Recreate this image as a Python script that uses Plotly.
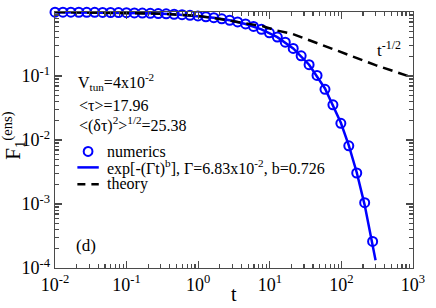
import plotly.graph_objects as go

# numerics (open circles)
num_t = [0.0100, 0.01291, 0.01666, 0.02151, 0.02777, 0.03585, 0.04628, 0.05974, 0.07712, 0.09956,
         0.1285, 0.1659, 0.2142, 0.2765, 0.3569, 0.4608, 0.5948, 0.7679, 0.9913, 1.280,
         1.652, 2.133, 2.753, 3.554, 4.588, 5.923, 7.646, 9.870, 12.74, 16.45,
         21.23, 27.41, 35.38, 45.68, 58.97, 76.12, 98.26, 126.8, 163.8, 211.4, 272.9]
num_F = [0.995, 0.994, 0.993, 0.991, 0.989, 0.987, 0.985, 0.982, 0.978, 0.974,
         0.968, 0.962, 0.955, 0.946, 0.935, 0.922, 0.907, 0.889, 0.868, 0.843,
         0.815, 0.781, 0.743, 0.699, 0.650, 0.595, 0.536, 0.472, 0.405, 0.337,
         0.270, 0.207, 0.150, 0.102, 0.062, 0.0355, 0.0182, 0.0081, 0.00305, 0.00105, 0.00026]

# stretched-exponential fit (solid blue)
fit_t = [0.0100, 0.02151, 0.04628, 0.09956, 0.2142, 0.4608, 0.9913, 1.652, 2.753, 4.588,
         7.646, 12.74, 21.23, 35.38, 58.97, 98.26, 126.8, 163.8, 211.4, 272.9, 300.0]
fit_F = [0.995, 0.991, 0.985, 0.974, 0.955, 0.922, 0.868, 0.815, 0.743, 0.650,
         0.536, 0.405, 0.270, 0.150, 0.0639, 0.0186, 0.00826, 0.00311, 0.00096, 0.000233, 0.000132]

# theory (dashed black)
th_t = [0.01, 0.1, 0.3, 1, 2, 4, 8, 12, 20, 50, 100, 300, 1000]
th_F = [1.0, 0.975, 0.94, 0.87, 0.78, 0.68, 0.60, 0.52, 0.46, 0.315, 0.235, 0.148, 0.094]

x_tickvals = [0.01, 0.1, 1, 10, 100, 1000]
x_ticktext = ["10<sup>-2</sup>", "10<sup>-1</sup>", "10<sup>0</sup>", "10<sup>1</sup>", "10<sup>2</sup>", "10<sup>3</sup>"]
y_tickvals = [1e-4, 1e-3, 1e-2, 1e-1, 1]
y_ticktext = ["10<sup>-4</sup>", "10<sup>-3</sup>", "10<sup>-2</sup>", "10<sup>-1</sup>", "10<sup>0</sup>"]

legend_labels = ["numerics", "exp[-(Γt)<sup>b</sup>], Γ=6.83x10<sup>-2</sup>, b=0.726", "theory"]

FONT = "Liberation Serif"
BLUE = "#0000ff"
AX = "#4a4a4a"

x_minor = [m * 10.0 ** e for e in range(-2, 3) for m in range(2, 10)]
y_minor = [m * 10.0 ** e for e in range(-4, 0) for m in range(2, 10)]

fig = go.Figure()
fig.add_trace(go.Scatter(x=num_t, y=num_F, mode="markers", name=legend_labels[0], showlegend=False,
                         marker=dict(symbol="circle-open", size=9, color=BLUE, line=dict(width=2, color=BLUE)),
                         cliponaxis=False))
fig.add_trace(go.Scatter(x=fit_t, y=fit_F, mode="lines", name="fit", showlegend=False,
                         line=dict(color=BLUE, width=2.5)))
fig.add_trace(go.Scatter(x=th_t, y=th_F, mode="lines", name=legend_labels[2], showlegend=False,
                         line=dict(color="black", width=2.5, dash="10px,6px")))

fig.update_xaxes(type="log", range=[-2, 3], tickvals=x_tickvals, ticktext=x_ticktext,
                 showline=True, linecolor=AX, linewidth=1.3, mirror="allticks",
                 ticks="inside", ticklen=7, tickcolor=AX, tickwidth=1.3, showgrid=False, zeroline=False,
                 tickfont=dict(family=FONT, size=18, color="black"),
                 minor=dict(tickmode="array", tickvals=x_minor, ticks="inside", ticklen=4,
                            tickcolor=AX, tickwidth=1.2, showgrid=False))
fig.update_yaxes(type="log", range=[-4, 0], tickvals=y_tickvals, ticktext=y_ticktext,
                 showline=True, linecolor=AX, linewidth=1.3, mirror="allticks",
                 ticks="inside", ticklen=7, tickcolor=AX, tickwidth=1.3, showgrid=False, zeroline=False,
                 tickfont=dict(family=FONT, size=18, color="black"),
                 minor=dict(tickmode="array", tickvals=y_minor, ticks="inside", ticklen=4,
                            tickcolor=AX, tickwidth=1.2, showgrid=False))

L, R, T, B = 55, 13, 11, 40
W, H = 436, 308
pw, ph = W - L - R, H - T - B

def px(x):
    return (x - L) / pw

def py(y):
    return (H - B - y) / ph

anns = [
    dict(text="V<sub>tun</sub>=4x10<sup>-2</sup>", x=px(77), y=py(81), size=16),
    dict(text="&lt;τ&gt;=17.96", x=px(78), y=py(105), size=16),
    dict(text="&lt;(δτ)<sup>2</sup>&gt;<sup>1/2</sup>=25.38", x=px(78), y=py(124), size=16),
    dict(text="(d)", x=px(75), y=py(245), size=17),
    dict(text="t<sup>-1/2</sup>", x=px(384), y=py(48), size=17),
]
for a in anns:
    fig.add_annotation(text=a["text"], x=a["x"], y=a["y"], xref="paper", yref="paper",
                       xanchor="left", yanchor="middle", showarrow=False,
                       font=dict(family=FONT, size=a["size"], color="black"))

# manual legend
leg_y = [151, 167, 184]
for lab, yy in zip(legend_labels, leg_y):
    fig.add_annotation(text=lab, x=px(106), y=py(yy), xref="paper", yref="paper",
                       xanchor="left", yanchor="middle", showarrow=False,
                       font=dict(family=FONT, size=16, color="black"))
fig.add_shape(type="circle", xref="paper", yref="paper",
              x0=px(84.5), x1=px(93.5), y0=py(leg_y[0] - 4.5), y1=py(leg_y[0] + 4.5),
              line=dict(color=BLUE, width=2))
fig.add_shape(type="line", xref="paper", yref="paper",
              x0=px(78), x1=px(100), y0=py(leg_y[1]), y1=py(leg_y[1]),
              line=dict(color=BLUE, width=2.5))
fig.add_shape(type="line", xref="paper", yref="paper",
              x0=px(78), x1=px(100), y0=py(leg_y[2]), y1=py(leg_y[2]),
              line=dict(color="black", width=2.5, dash="8px,6px"))

fig.add_annotation(text="t", x=px(239), y=py(307), xref="paper", yref="paper",
                   xanchor="center", yanchor="bottom", showarrow=False,
                   font=dict(family=FONT, size=20, color="black"))
fig.add_annotation(text="F<sub>1</sub><sup>(ens)</sup>", x=px(12), y=py(135), xref="paper", yref="paper",
                   xanchor="center", yanchor="middle", showarrow=False, textangle=-90,
                   font=dict(family=FONT, size=21, color="black"))

fig.update_layout(width=W, height=H, margin=dict(l=L, r=R, t=T, b=B),
                  paper_bgcolor="white", plot_bgcolor="white", showlegend=False,
                  font=dict(family=FONT))

fig.write_html("out.html",
               config={"displayModeBar": False, "staticPlot": True},
               post_script="document.body.style.margin='0';document.body.style.padding='0';"
                           "document.documentElement.style.overflow='hidden';")
